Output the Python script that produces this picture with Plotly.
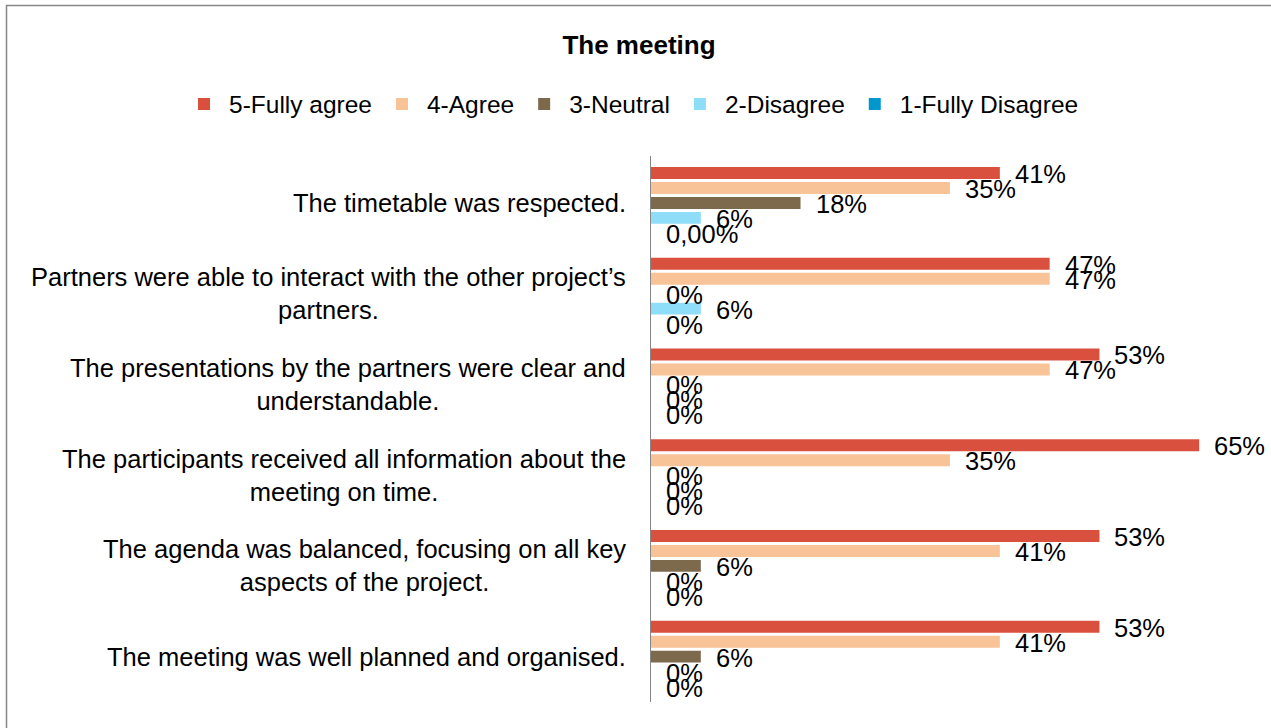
import plotly.graph_objects as go

# ---------------- data ----------------
categories = [
    "The timetable was respected.",
    "Partners were able to interact with the other project’s<br>partners.",
    "The presentations by the partners were clear and<br>understandable.",
    "The participants received all information about the<br>meeting on time.",
    "The agenda was balanced, focusing on all key<br>aspects of the project.",
    "The meeting was well planned and organised.",
]
series_names = ["5-Fully agree", "4-Agree", "3-Neutral", "2-Disagree", "1-Fully Disagree"]

fully_agree = [0.4118, 0.4706, 0.5294, 0.6471, 0.5294, 0.5294]
agree = [0.3529, 0.4706, 0.4706, 0.3529, 0.4118, 0.4118]
neutral = [0.1765, 0.0, 0.0, 0.0, 0.0588, 0.0588]
disagree = [0.0588, 0.0588, 0.0, 0.0, 0.0, 0.0]
fully_disagree = [0.0, 0.0, 0.0, 0.0, 0.0, 0.0]

fully_agree_labels = ["41%", "47%", "53%", "65%", "53%", "53%"]
agree_labels = ["35%", "47%", "47%", "35%", "41%", "41%"]
neutral_labels = ["18%", "0%", "0%", "0%", "6%", "6%"]
disagree_labels = ["6%", "6%", "0%", "0%", "0%", "0%"]
fully_disagree_labels = ["0,00%", "0%", "0%", "0%", "0%", "0%"]

series_values = [fully_agree, agree, neutral, disagree, fully_disagree]
series_labels = [fully_agree_labels, agree_labels, neutral_labels,
                 disagree_labels, fully_disagree_labels]
colors = ["#D9503E", "#F9C398", "#7D6A4C", "#8EDDF9", "#0098CC"]

# ---------------- layout constants ----------------
W, H = 1271, 728
ML, MR, MT, MB = 651, 27, 156, 26
BARGAP = 0.176
BARGROUPGAP = 0.2
FONT = "Liberation Sans, Arial, sans-serif"

fig = go.Figure()
for name, vals, col in zip(series_names, series_values, colors):
    fig.add_trace(go.Bar(
        y=categories, x=vals, name=name, orientation="h",
        marker=dict(color=col, line=dict(width=0)),
        hoverinfo="x+y",
    ))

annotations = []
# data labels
n = len(series_names)
slot = (1 - BARGAP) / n
for j, (vals, labs) in enumerate(zip(series_values, series_labels)):
    for i, (v, lab) in enumerate(zip(vals, labs)):
        annotations.append(dict(
            x=v, y=i + (j - (n - 1) / 2) * slot, xref="x", yref="y",
            text=lab, showarrow=False, xanchor="left", yanchor="middle",
            xshift=13, yshift=-1,
            font=dict(family=FONT, size=25.5, color="#000000"),
        ))
# category labels (centered multi-line like the original)
for i, cat in enumerate(categories):
    annotations.append(dict(
        x=0, y=i, xref="paper", yref="y", text=cat, showarrow=False,
        xanchor="right", yanchor="middle", align="center", xshift=-23,
        font=dict(family=FONT, size=25.5, color="#000000"),
    ))

plot_w = W - ML - MR
plot_h = H - MT - MB
def px_x(p):
    return (p - ML) / plot_w
def px_y(p):
    return (H - MB - p) / plot_h

fig.update_layout(
    width=W, height=H,
    margin=dict(l=ML, r=MR, t=MT, b=MB, pad=0, autoexpand=False),
    paper_bgcolor="white", plot_bgcolor="white",
    barmode="group", bargap=BARGAP, bargroupgap=BARGROUPGAP,
    title=dict(text="<b>The meeting</b>", x=639 / W, xref="container",
               y=1 - 45 / H, yref="container", xanchor="center", yanchor="middle",
               font=dict(family=FONT, size=26, color="#000000")),
    legend=dict(orientation="h", xref="paper", yref="paper",
                x=px_x(179), y=px_y(104), xanchor="left", yanchor="middle",
                itemwidth=40,
                font=dict(family=FONT, size=24.5, color="#000000"),
                itemclick=False, itemdoubleclick=False, traceorder="normal",
                bgcolor="rgba(0,0,0,0)"),
    xaxis=dict(range=[0, 0.70], visible=False, showgrid=False, zeroline=False),
    yaxis=dict(type="category", autorange="reversed", showticklabels=False,
               ticks="", showgrid=False, zeroline=False,
               showline=True, linecolor="#868686", linewidth=1.3),
    annotations=annotations,
    shapes=[dict(type="rect", xref="paper", yref="paper",
                 x0=px_x(6.5), x1=px_x(1300), y0=px_y(760), y1=px_y(5.5),
                 line=dict(color="#878787", width=1.5), fillcolor="rgba(0,0,0,0)",
                 layer="below")],
    showlegend=True,
)

fig.write_html("out.html", config={"displayModeBar": False},
               post_script="document.body.style.margin='0px';")
